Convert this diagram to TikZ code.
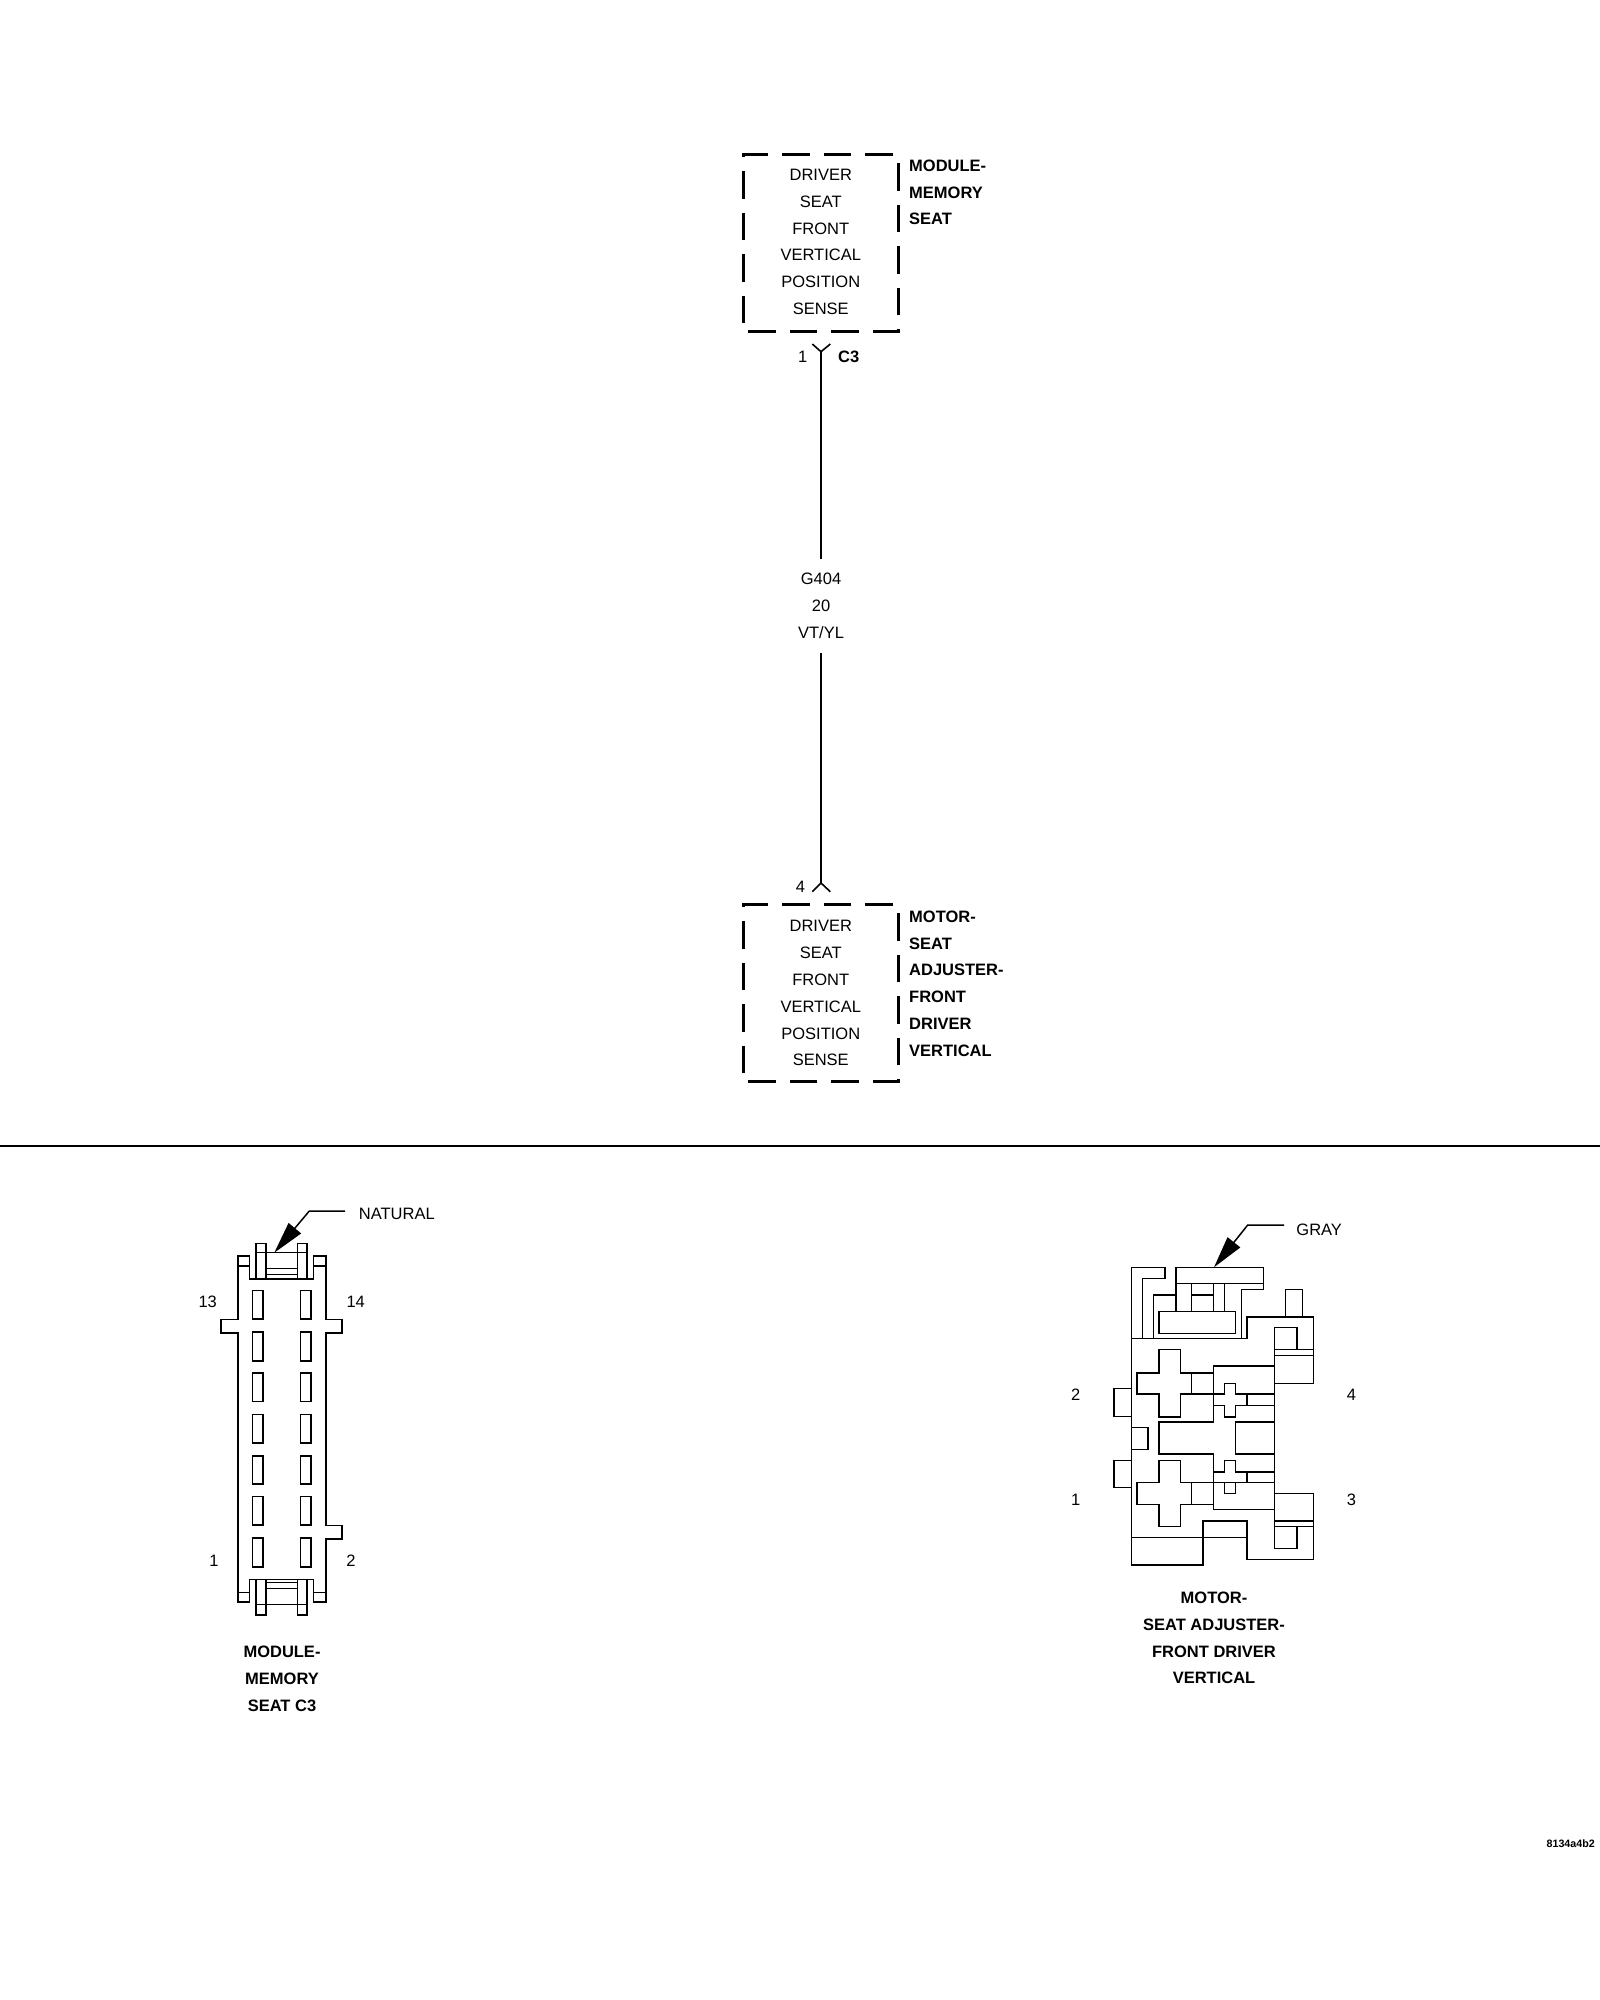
\documentclass[tikz,border=0pt]{standalone}
\usepackage{fontspec}
\setmainfont{Liberation Sans}
\usetikzlibrary{arrows.meta}
\begin{document}
\begin{tikzpicture}[x=1pt,y=-1pt,
    every node/.append style={inner sep=0pt,font=\fontsize{16.5}{26.8}\selectfont},
    pinbox/.style={draw,line width=3pt,minimum width=155pt,minimum height=176.5pt,align=center,
        dash pattern=on 27.5pt off 14pt,dash phase=36.5pt},
    compname/.style={anchor=north west,align=left,font=\fontsize{16.5}{26.8}\selectfont\bfseries},
    viewname/.style={align=center,font=\fontsize{16.5}{26.8}\selectfont\bfseries},
    wire/.style={line width=1.6pt},
    outline/.style={line width=1.6pt,line join=miter},
    cavity/.style={draw,line width=1.6pt,minimum width=10.4pt,minimum height=28.5pt},
    leader/.style={line width=1.5pt,-{Triangle[length=32pt,width=16pt]}}]
    \useasboundingbox (0,0) rectangle (1600,2000);

    \node[pinbox,text depth=2.6pt] (memory) at (820.75,243.2) {DRIVER\\SEAT\\FRONT\\VERTICAL\\POSITION\\SENSE};
    \node[compname] (memoryname) at (909,159.6) {MODULE-\\MEMORY\\SEAT};
    \node[pinbox] (motor) at (820.75,993.2) {DRIVER\\SEAT\\FRONT\\VERTICAL\\POSITION\\SENSE};
    \node[compname] (motorname) at (909,910.6) {MOTOR-\\SEAT\\ADJUSTER-\\FRONT\\DRIVER\\VERTICAL};

    \node (pinone) at (802.7,356.7) {1};
    \node[font=\fontsize{16.5}{20}\selectfont\bfseries,anchor=west] (cthree) at (838,356.7) {C3};
    \node (pinfour) at (800.5,886.7) {4};
    \node[minimum height=93pt,align=center] (wirelabel) at (821,605.8) {G404\\20\\VT/YL};

    \coordinate (femaletop) at (821,351.7);
    \coordinate (maletop) at (821,883);
    \draw[wire] (812.3,344) -- (femaletop) -- (830.3,344);
    \draw[wire] (812.3,891.7) -- (maletop) -- (830.3,891.7);
    \draw[wire] (femaletop) -- (wirelabel.north);
    \draw[wire] (wirelabel.south) -- (maletop);

    \coordinate (ruleleft) at (0,1146);
    \coordinate (ruleright) at (1600,1146);
    \draw[line width=2pt] (ruleleft) -- (ruleright);

    \draw[outline] (249.5,1278.7) -- (249.5,1255.7) -- (237.7,1255.7) -- (237.7,1319.3) -- (221,1319.3)
        -- (221,1332.7) -- (237.7,1332.7) -- (237.7,1601.7) -- (249.5,1601.7) -- (249.5,1579.3)
        -- (313.3,1579.3) -- (313.3,1601.7) -- (325.7,1601.7) -- (325.7,1538.7) -- (342,1538.7)
        -- (342,1525.3) -- (325.7,1525.3) -- (325.7,1332.7) -- (342,1332.7) -- (342,1319.3)
        -- (325.7,1319.3) -- (325.7,1255.7) -- (313.3,1255.7) -- (313.3,1278.7) -- cycle;
    \draw[outline] (237.7,1265.7) -- (249.5,1265.7) (313.3,1265.7) -- (325.7,1265.7);
    \draw[outline] (237.7,1592.3) -- (249.5,1592.3) (313.3,1592.3) -- (325.7,1592.3);
    \draw[outline] (256,1278.7) -- (256,1243.3) -- (265.7,1243.3) -- (265.7,1278.7);
    \draw[outline] (297.3,1278.7) -- (297.3,1243.3) -- (306.7,1243.3) -- (306.7,1278.7);
    \draw[outline] (256,1252.3) -- (306.7,1252.3);
    \draw[line width=1.2pt] (265.7,1268.7) -- (297.3,1268.7) (265.7,1274.7) -- (297.3,1274.7);
    \draw[outline] (256,1579.3) -- (256,1615) -- (265.7,1615) -- (265.7,1579.3);
    \draw[outline] (297.3,1579.3) -- (297.3,1615) -- (306.7,1615) -- (306.7,1579.3);
    \draw[outline] (256,1604.3) -- (306.7,1604.3);
    \draw[line width=1.2pt] (265.7,1582.7) -- (297.3,1582.7) (265.7,1588.3) -- (297.3,1588.3);

    \node[cavity] (cavitya) at (257.5,1304.8) {};
    \node[cavity] (cavityb) at (305.5,1304.8) {};
    \node[cavity] (cavityc) at (257.5,1346.5) {};
    \node[cavity] (cavityd) at (305.5,1346.5) {};
    \node[cavity] (cavitye) at (257.5,1387.3) {};
    \node[cavity] (cavityf) at (305.5,1387.3) {};
    \node[cavity] (cavityg) at (257.5,1428.8) {};
    \node[cavity] (cavityh) at (305.5,1428.8) {};
    \node[cavity] (cavityi) at (257.5,1470) {};
    \node[cavity] (cavityj) at (305.5,1470) {};
    \node[cavity] (cavityk) at (257.5,1510.8) {};
    \node[cavity] (cavityl) at (305.5,1510.8) {};
    \node[cavity] (cavitym) at (257.5,1552.5) {};
    \node[cavity] (cavityn) at (305.5,1552.5) {};

    \node (memthirteen) at (207.7,1302) {13};
    \node (memfourteen) at (355.7,1302) {14};
    \node (memone) at (214,1561) {1};
    \node (memtwo) at (351,1561) {2};
    \node[viewname] (memoryview) at (282,1679) {MODULE-\\MEMORY\\SEAT C3};

    \node[anchor=west,inner xsep=13.7pt] (natural) at (345,1214.3) {NATURAL};
    \coordinate (naturalbend) at (309.3,1211);
    \coordinate (naturaltip) at (274.3,1252.7);
    \draw[leader] (345,1211) -- (naturalbend) -- (naturaltip);

    \draw[outline] (1131.3,1338.3) -- (1131.3,1267.3) -- (1164.7,1267.3) -- (1164.7,1278.3) -- (1142.3,1278.3) -- (1142.3,1338.3);
    \draw[outline] (1175.7,1267.3) rectangle (1263.3,1283.3);
    \draw[outline] (1263.3,1283.3) -- (1263.3,1289.3) -- (1241.3,1289.3) -- (1241.3,1338.3);
    \draw[outline] (1131.3,1338.3) -- (1246.7,1338.3) -- (1246.7,1316.7) -- (1313.3,1316.7) -- (1313.3,1383.3) -- (1274.3,1383.3);
    \draw[outline] (1153.3,1338.3) -- (1153.3,1294.7) -- (1175.7,1294.7);
    \draw[outline] (1175.7,1283.3) -- (1175.7,1311.3) (1191.3,1283.3) -- (1191.3,1311.3);
    \draw[outline] (1213.3,1283.3) -- (1213.3,1311.3) (1224.3,1283.3) -- (1224.3,1311.3);
    \draw[outline] (1191.3,1294.7) -- (1213.3,1294.7);
    \draw[outline] (1158.7,1311.3) rectangle (1235.3,1333.3);
    \draw[outline] (1285.3,1316.7) -- (1285.3,1289.3) -- (1302.3,1289.3) -- (1302.3,1316.7);
    \draw[outline] (1274.3,1327.3) rectangle (1296.7,1349.3);
    \draw[outline] (1274.3,1349.3) -- (1313.3,1349.3) (1274.3,1355.3) -- (1313.3,1355.3);
    \draw[outline] (1274.3,1327.3) -- (1274.3,1548.3);
    \draw[outline] (1274.3,1526.3) rectangle (1296.7,1548.3);
    \draw[outline] (1274.3,1520.7) -- (1313.3,1520.7) (1274.3,1526.3) -- (1313.3,1526.3);
    \draw[outline] (1131.3,1338.3) -- (1131.3,1565) -- (1202.7,1565) -- (1202.7,1520.7) -- (1246.7,1520.7)
        -- (1246.7,1559.3) -- (1313.3,1559.3) -- (1313.3,1493.3) -- (1274.3,1493.3);
    \draw[outline] (1131.3,1537.3) -- (1246.7,1537.3);
    \draw[outline] (1114,1388.3) rectangle (1131.3,1416.5);
    \draw[outline] (1114,1460.3) rectangle (1131.3,1487.3);
    \draw[outline] (1131.3,1427.3) rectangle (1147.7,1449.3);

    \draw[outline] (1158.7,1349.3) -- (1180.3,1349.3) -- (1180.3,1372.7) -- (1191.3,1372.7) -- (1191.3,1394) -- (1180.3,1394)
        -- (1180.3,1416.7) -- (1158.7,1416.7) -- (1158.7,1394) -- (1136.7,1394) -- (1136.7,1372.7) -- (1158.7,1372.7) -- cycle;
    \draw[outline] (1158.7,1460.3) -- (1180.3,1460.3) -- (1180.3,1482.3) -- (1191.3,1482.3) -- (1191.3,1504.3) -- (1180.3,1504.3)
        -- (1180.3,1526.3) -- (1158.7,1526.3) -- (1158.7,1504.3) -- (1136.7,1504.3) -- (1136.7,1482.3) -- (1158.7,1482.3) -- cycle;
    \draw[outline] (1224.3,1383.3) -- (1235.3,1383.3) -- (1235.3,1394) -- (1246.7,1394) -- (1246.7,1405.3) -- (1235.3,1405.3)
        -- (1235.3,1416.7) -- (1224.3,1416.7) -- (1224.3,1405.3) -- (1213.3,1405.3) -- (1213.3,1394) -- (1224.3,1394) -- cycle;
    \draw[outline] (1224.3,1460.3) -- (1235.3,1460.3) -- (1235.3,1471.7) -- (1246.7,1471.7) -- (1246.7,1482.3) -- (1235.3,1482.3)
        -- (1235.3,1493.3) -- (1224.3,1493.3) -- (1224.3,1482.3) -- (1213.3,1482.3) -- (1213.3,1471.7) -- (1224.3,1471.7) -- cycle;

    \draw[outline] (1274.3,1366) -- (1213.3,1366) -- (1213.3,1421.7) -- (1158.7,1421.7) -- (1158.7,1454) -- (1213.3,1454)
        -- (1213.3,1509.3) -- (1274.3,1509.3);
    \draw[outline] (1191.3,1372.7) -- (1213.3,1372.7) (1191.3,1394) -- (1213.3,1394);
    \draw[outline] (1180.3,1482.3) -- (1274.3,1482.3) (1180.3,1504.3) -- (1213.3,1504.3);
    \draw[outline] (1246.7,1394) -- (1274.3,1394) (1235.3,1405.3) -- (1274.3,1405.3);
    \draw[outline] (1235.3,1471.7) -- (1274.3,1471.7);
    \draw[outline] (1274.3,1421.7) -- (1235.3,1421.7) -- (1235.3,1454) -- (1274.3,1454);

    \node (mottwo) at (1075.6,1394.7) {2};
    \node (motfour) at (1351.5,1394.7) {4};
    \node (motone) at (1075.6,1499.4) {1};
    \node (motthree) at (1351.5,1499.4) {3};
    \node[viewname] (motorview) at (1214,1638) {MOTOR-\\SEAT ADJUSTER-\\FRONT DRIVER\\VERTICAL};

    \node[anchor=west,inner xsep=12.2pt] (gray) at (1284,1230.3) {GRAY};
    \coordinate (graybend) at (1247.7,1225);
    \coordinate (graytip) at (1214,1267.3);
    \draw[leader] (1284,1225) -- (graybend) -- (graytip);

    \node[anchor=east,font=\fontsize{10.7}{12}\selectfont\bfseries] (drawingid) at (1595,1843.3) {8134a4b2};
\end{tikzpicture}
\end{document}
